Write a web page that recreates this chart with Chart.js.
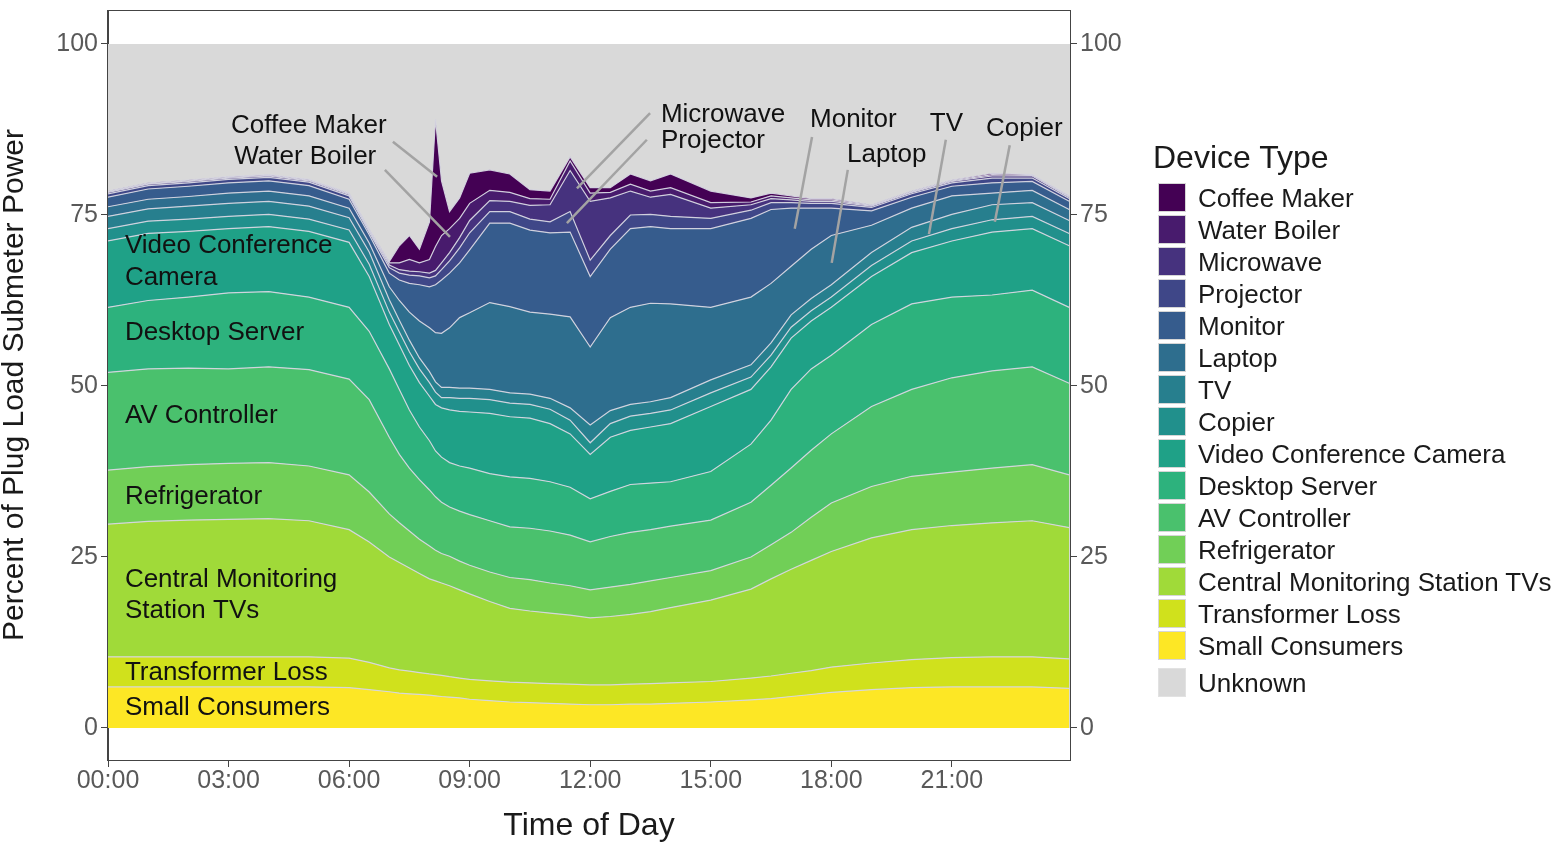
<!DOCTYPE html>
<html>
<head>
<meta charset="utf-8">
<script src="https://cdn.jsdelivr.net/npm/chart.js@4.4.1/dist/chart.umd.min.js"></script>
<style>
  body { margin: 0; background: #fff; font-family: "Liberation Sans", Arial, sans-serif; }
  #wrap { position: relative; width: 1563px; height: 842px; }
  #legend { position: absolute; left: 0; top: 0; color: #1a1a1a; }
  .ttl { position: absolute; left: 1153px; top: 138px; font-size: 32px; line-height: 38px; white-space: nowrap; }
  .box { position: absolute; left: 1158px; width: 28px; height: 29px; box-sizing: border-box; border: 1px solid #d6d6d6; }
  .lbl { position: absolute; left: 1198px; font-size: 26px; line-height: 30px; white-space: nowrap; }
</style>
</head>
<body>
<div id="wrap">
  <canvas id="chart"></canvas>
  <div id="legend"></div>
</div>
<script>
// time of day in hours
var hours = [0, 1, 2, 3, 4, 5, 6, 6.5, 7, 7.25, 7.5, 7.75, 8, 8.15, 8.3, 8.5, 8.75, 9, 9.5, 10,
             10.5, 11, 11.5, 12, 12.5, 13, 13.5, 14, 15, 16, 16.5, 17, 17.5, 18, 19, 20, 21, 22, 23, 23.92];

var xTickHours = [0, 3, 6, 9, 12, 15, 18, 21];
var xTickLabels = ['00:00', '03:00', '06:00', '09:00', '12:00', '15:00', '18:00', '21:00'];
var yTicks = [0, 25, 50, 75, 100];

// percent of plug load submeter power, one array per device (bottom of the stack first)
var smallConsumers = [6.0, 6.0, 6.0, 6.0, 6.0, 6.0, 5.9, 5.6, 5.3, 5.1, 5.0, 4.9, 4.8, 4.7, 4.6, 4.5, 4.4, 4.2, 4.0, 3.8,
                      3.7, 3.6, 3.5, 3.4, 3.4, 3.5, 3.5, 3.6, 3.8, 4.1, 4.3, 4.6, 4.9, 5.2, 5.6, 5.9, 6.0, 6.0, 6.0, 5.8];
var transformerLoss = [4.4, 4.4, 4.4, 4.4, 4.4, 4.4, 4.3, 4.0, 3.5, 3.4, 3.3, 3.2, 3.1, 3.1, 3.1, 3.0, 2.9, 2.9, 2.9, 2.9,
                       2.9, 2.9, 2.9, 2.9, 2.9, 2.9, 3.0, 3.0, 3.0, 3.2, 3.3, 3.4, 3.5, 3.7, 3.9, 4.1, 4.3, 4.4, 4.4, 4.3];
var cmsTVs = [19.4, 19.8, 20.0, 20.1, 20.2, 19.9, 18.8, 17.6, 16.2, 15.7, 15.1, 14.5, 13.9, 13.7, 13.5, 13.3, 12.9, 12.5, 11.6, 10.8,
              10.5, 10.3, 10.1, 9.8, 10.0, 10.2, 10.5, 11.0, 11.9, 13.0, 14.2, 15.2, 16.1, 16.9, 18.3, 19.0, 19.3, 19.6, 19.9, 19.2];
var refrigerator = [7.9, 8.0, 8.1, 8.2, 8.2, 8.0, 8.0, 7.3, 6.3, 5.8, 5.4, 5.0, 4.8, 4.5, 4.3, 4.3, 4.2, 4.2, 4.3, 4.5,
                    4.6, 4.4, 4.3, 4.1, 4.3, 4.4, 4.5, 4.4, 4.3, 4.7, 5.0, 5.4, 6.3, 7.1, 7.5, 7.8, 7.8, 8.0, 8.2, 7.7];
var avController = [14.3, 14.3, 14.1, 13.8, 14.0, 14.1, 14.0, 13.5, 11.2, 10.0, 9.2, 8.7, 8.2, 7.8, 7.5, 7.2, 7.3, 7.4, 7.5, 7.4,
                    7.5, 7.6, 7.4, 7.0, 7.4, 7.6, 7.5, 7.5, 7.4, 8.0, 8.7, 9.4, 9.8, 10.1, 11.7, 12.7, 13.8, 14.2, 14.3, 13.4];
var desktopServer = [9.5, 10.0, 10.4, 11.1, 11.0, 10.6, 10.5, 10.0, 10.0, 9.5, 8.5, 7.7, 7.2, 6.7, 6.6, 6.5, 6.6, 6.8, 6.9, 7.3,
                     7.3, 7.2, 7.0, 6.3, 6.6, 7.0, 6.8, 6.5, 7.1, 8.5, 9.5, 11.5, 11.9, 11.5, 12.0, 12.5, 11.8, 11.1, 11.2, 11.1];
var videoCamera = [9.7, 9.8, 9.6, 9.4, 9.5, 9.6, 9.5, 8.0, 6.5, 6.5, 6.5, 6.5, 6.5, 6.8, 7.2, 7.7, 8.0, 8.2, 8.8, 8.8,
                   8.8, 8.5, 7.8, 6.5, 7.9, 7.9, 8.2, 8.5, 9.5, 8.0, 7.8, 7.5, 7.0, 7.0, 7.0, 7.5, 8.2, 9.2, 9.0, 9.0];
var copier = [1.8, 1.8, 1.8, 1.8, 1.8, 1.8, 1.8, 1.8, 1.8, 1.9, 2.0, 2.0, 2.0, 1.8, 1.5, 1.8, 1.9, 2.0, 2.0, 2.0,
              2.0, 2.1, 2.0, 1.7, 2.0, 2.1, 2.0, 2.0, 2.0, 1.8, 1.7, 1.6, 1.5, 1.5, 1.6, 1.7, 1.8, 1.8, 1.8, 1.8];
var tv = [1.8, 1.8, 1.9, 1.9, 1.9, 1.9, 1.8, 1.8, 1.8, 1.7, 1.7, 1.6, 1.6, 1.5, 1.5, 1.5, 1.5, 1.5, 1.5, 1.5,
          1.5, 1.6, 1.8, 2.6, 1.9, 1.7, 1.7, 1.8, 1.9, 1.8, 1.8, 1.8, 1.8, 1.8, 1.9, 2.0, 2.1, 2.2, 2.0, 1.9];
var laptop = [1.4, 1.4, 1.4, 1.5, 1.5, 1.5, 1.4, 1.3, 1.9, 2.9, 4.1, 5.4, 6.4, 7.2, 7.9, 8.7, 10.3, 11.0, 12.7, 12.6,
              12.0, 12.3, 13.3, 11.4, 13.6, 14.2, 14.4, 13.7, 10.6, 9.9, 8.7, 7.1, 7.2, 7.2, 4.0, 2.8, 2.7, 1.7, 1.8, 1.6];
var monitor = [1.4, 1.5, 1.5, 1.5, 1.5, 1.5, 1.3, 1.2, 2.0, 3.0, 4.2, 5.3, 6.0, 7.0, 7.8, 8.0, 8.0, 9.2, 11.6, 12.2,
               12.0, 11.9, 12.4, 10.3, 10.0, 11.5, 11.2, 11.0, 11.5, 11.5, 10.8, 8.5, 6.0, 4.0, 2.1, 1.6, 1.4, 1.5, 1.3, 1.2];
var projector = [0.5, 0.5, 0.5, 0.5, 0.5, 0.5, 0.5, 0.4, 0.8, 1.0, 1.2, 1.3, 1.3, 1.3, 1.5, 1.8, 2.2, 2.5, 1.7, 1.7,
                 1.6, 1.6, 3.0, 2.4, 2.0, 2.0, 1.8, 1.8, 1.5, 1.2, 1.0, 0.8, 0.7, 0.7, 0.5, 0.5, 0.5, 0.7, 0.5, 0.4];
var microwave = [0.2, 0.2, 0.2, 0.2, 0.2, 0.2, 0.2, 0.2, 0.4, 0.5, 0.6, 0.6, 0.7, 0.8, 1.0, 1.2, 1.5, 1.8, 1.6, 1.5,
                 2.0, 2.5, 6.0, 8.6, 5.5, 3.5, 2.5, 3.2, 1.5, 0.8, 0.6, 0.4, 0.3, 0.3, 0.2, 0.2, 0.2, 0.3, 0.3, 0.2];
var waterBoiler = [0.1, 0.1, 0.1, 0.1, 0.1, 0.1, 0.1, 0.1, 0.3, 1.0, 1.7, 1.3, 2.0, 3.5, 4.0, 3.5, 2.8, 2.5, 1.5, 1.3,
                   1.0, 0.8, 1.4, 1.2, 0.8, 1.0, 0.9, 1.0, 0.8, 0.4, 0.4, 0.3, 0.2, 0.2, 0.1, 0.1, 0.1, 0.2, 0.1, 0.1];
var coffeeMaker = [0.1, 0.1, 0.1, 0.1, 0.1, 0.1, 0.1, 0.1, 0.2, 2.5, 3.5, 2.0, 5.5, 18.6, 8.0, 2.5, 3.0, 4.4, 3.0, 2.7,
                   1.3, 1.2, 0.6, 0.8, 0.7, 1.5, 1.5, 2.0, 1.7, 0.6, 0.4, 0.3, 0.2, 0.2, 0.1, 0.1, 0.1, 0.2, 0.1, 0.1];

var FONT = '"Liberation Sans", Arial, sans-serif';
var lineCol = 'rgba(214,214,226,0.95)';

var layers = [
  ['Small Consumers', smallConsumers, '#FDE725'],
  ['Transformer Loss', transformerLoss, '#D0E11C'],
  ['Central Monitoring Station TVs', cmsTVs, '#A0DA39'],
  ['Refrigerator', refrigerator, '#71CF57'],
  ['AV Controller', avController, '#4AC16D'],
  ['Desktop Server', desktopServer, '#2DB27D'],
  ['Video Conference Camera', videoCamera, '#1FA187'],
  ['Copier', copier, '#21908C'],
  ['TV', tv, '#277F8E'],
  ['Laptop', laptop, '#2E6E8E'],
  ['Monitor', monitor, '#365C8D'],
  ['Projector', projector, '#3F4788'],
  ['Microwave', microwave, '#46327E'],
  ['Water Boiler', waterBoiler, '#481B6D'],
  ['Coffee Maker', coffeeMaker, '#440154']
];
var unknownCol = '#d9d9d9';

var datasets = layers.map(function (l, i) {
  return {
    label: l[0], data: l[1], backgroundColor: l[2], borderColor: lineCol, borderWidth: 1.2,
    pointRadius: 0, tension: 0, fill: i === 0 ? 'origin' : '-1'
  };
});

// text labels drawn in the plot: [text, hour, percent]
var areaLabels = [
  ['Video Conference', 0.42, 70.5], ['Camera', 0.42, 65.8], ['Desktop Server', 0.42, 57.7],
  ['AV Controller', 0.42, 45.6], ['Refrigerator', 0.42, 33.8], ['Central Monitoring', 0.42, 21.6],
  ['Station TVs', 0.42, 17.1], ['Transformer Loss', 0.42, 8.0], ['Small Consumers', 0.42, 2.9],
  ['Coffee Maker', 3.06, 88.0], ['Water Boiler', 3.14, 83.5], ['Microwave', 13.76, 89.6],
  ['Projector', 13.76, 85.8], ['Monitor', 17.47, 88.9], ['Laptop', 18.39, 83.8],
  ['TV', 20.45, 88.3], ['Copier', 21.85, 87.6]
];
var leaders = [
  [7.09, 85.7, 8.19, 80.6], [6.89, 81.6, 8.51, 71.8], [13.49, 89.9, 11.67, 78.9],
  [13.41, 86.0, 11.42, 73.8], [17.52, 86.4, 17.09, 73.0], [18.41, 81.6, 18.01, 68.0],
  [20.85, 86.0, 20.43, 72.2], [22.44, 85.2, 22.07, 74.0]
];

var panel = {
  id: 'panel',
  beforeDatasetsDraw: function (chart) {
    var ctx = chart.ctx, a = chart.chartArea, y = chart.scales.y;
    var t = y.getPixelForValue(100), b = y.getPixelForValue(0);
    ctx.save();
    ctx.fillStyle = unknownCol;
    ctx.fillRect(a.left, t, a.right - a.left, b - t);
    ctx.restore();
  },
  afterDraw: function (chart) {
    var ctx = chart.ctx, a = chart.chartArea, x = chart.scales.x, y = chart.scales.y;
    ctx.save();
    ctx.strokeStyle = '#444';
    ctx.lineWidth = 1;
    ctx.strokeRect(a.left - 0.5, a.top + 0.5, a.right - a.left + 1, a.bottom - a.top);
    ctx.strokeStyle = '#a3a3a3';
    ctx.lineWidth = 2.5;
    leaders.forEach(function (l) {
      ctx.beginPath();
      ctx.moveTo(x.getPixelForValue(l[0]), y.getPixelForValue(l[1]));
      ctx.lineTo(x.getPixelForValue(l[2]), y.getPixelForValue(l[3]));
      ctx.stroke();
    });
    ctx.fillStyle = '#111';
    ctx.font = '26px ' + FONT;
    ctx.textBaseline = 'middle';
    ctx.textAlign = 'left';
    areaLabels.forEach(function (l) {
      ctx.fillText(l[0], x.getPixelForValue(l[1]), y.getPixelForValue(l[2]));
    });
    ctx.restore();
  }
};

function yAxis(pos, width) {
  return {
    position: pos, min: -4.68, max: 104.97, stacked: pos === 'left',
    afterFit: function (s) { s.width = width; s.paddingTop = 0; s.paddingBottom = 0; },
    afterBuildTicks: function (s) { s.ticks = yTicks.map(function (v) { return { value: v }; }); },
    ticks: { color: '#595959', font: { size: 25, family: FONT }, padding: 3 },
    grid: { drawOnChartArea: false, tickLength: 7, color: '#444' },
    border: { display: true, color: '#444' },
    title: { display: pos === 'left', text: 'Percent of Plug Load Submeter Power', color: '#1a1a1a',
             font: { size: 30, family: FONT, lineHeight: 1 }, padding: { top: 0, bottom: 10 } }
  };
}

new Chart(document.getElementById('chart'), {
  type: 'line',
  data: { labels: hours, datasets: datasets },
  options: {
    responsive: true,
    maintainAspectRatio: false,
    animation: false,
    layout: { padding: { top: 10, right: 433, bottom: 0, left: 0 } },
    plugins: { legend: { display: false }, tooltip: { enabled: false } },
    scales: {
      x: {
        type: 'linear', min: 0, max: 23.94,
        afterFit: function (s) { s.height = 82; s.paddingLeft = 0; s.paddingRight = 0; },
        afterBuildTicks: function (s) { s.ticks = xTickHours.map(function (v) { return { value: v }; }); },
        ticks: {
          color: '#595959', font: { size: 25, family: FONT, lineHeight: 1 }, padding: 2,
          maxRotation: 0, autoSkip: false,
          callback: function (v, i) { return xTickLabels[i]; }
        },
        grid: { drawOnChartArea: false, tickLength: 7, color: '#444' },
        border: { display: true, color: '#444' },
        title: { display: true, text: 'Time of Day', color: '#1a1a1a',
                 font: { size: 32, family: FONT, lineHeight: 1 }, padding: 0 }
      },
      y: yAxis('left', 108),
      y2: yAxis('right', 60)
    }
  },
  plugins: [panel]
});

// legend, top entry first
var lg = document.getElementById('legend');
var html = '<div class="ttl">Device Type</div>';
layers.slice().reverse().forEach(function (l, i) {
  var top = 183 + 32 * i;
  html += '<div class="box" style="top:' + top + 'px;background:' + l[2] + '"></div>' +
          '<div class="lbl" style="top:' + top + 'px">' + l[0] + '</div>';
});
var uTop = 183 + 32 * layers.length + 5;
html += '<div class="box" style="top:' + uTop + 'px;background:' + unknownCol + ';border-color:#e2e2e2"></div>' +
        '<div class="lbl" style="top:' + uTop + 'px">Unknown</div>';
lg.innerHTML = html;
</script>
</body>
</html>
